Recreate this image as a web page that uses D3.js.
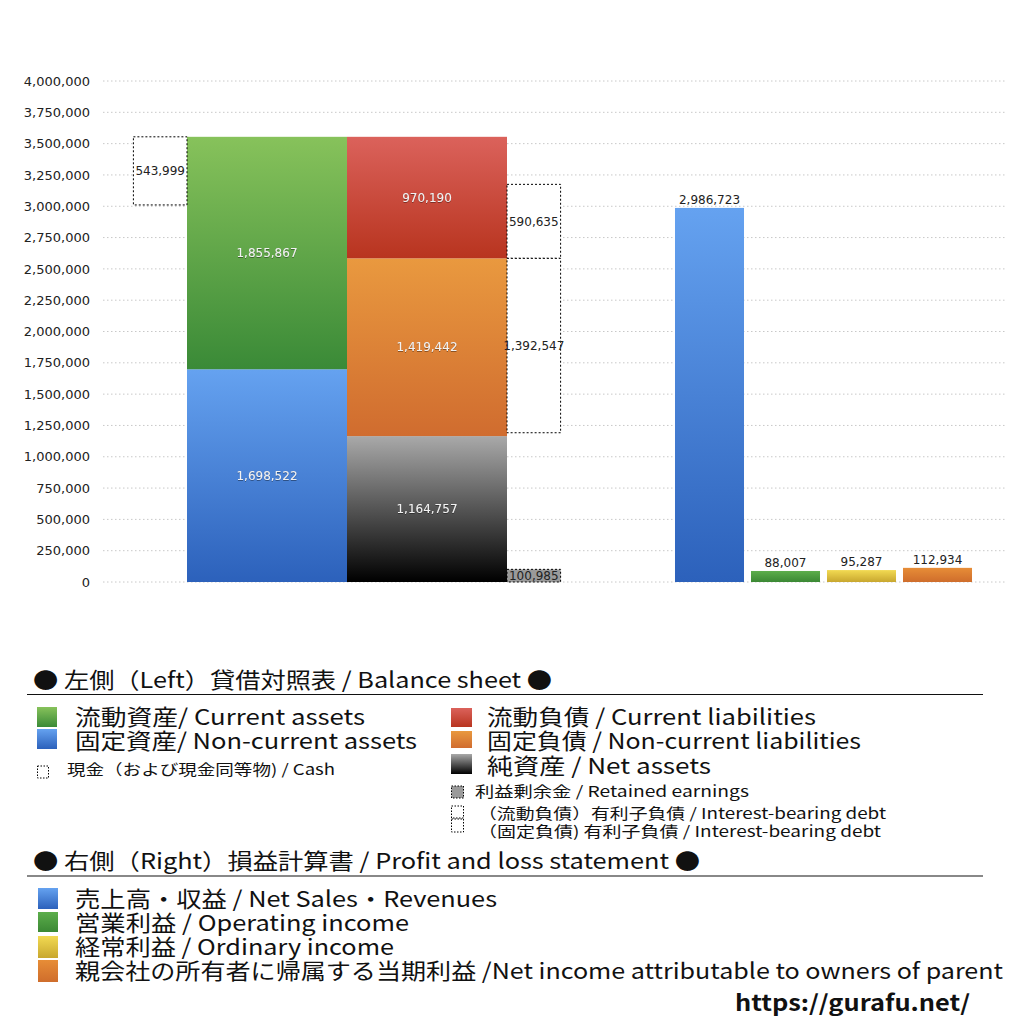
<!DOCTYPE html>
<html>
<head>
<meta charset="utf-8">
<script src="https://cdn.jsdelivr.net/npm/d3@7"></script>
<style>
  html, body { margin: 0; padding: 0; background: #fff; }
  svg { display: block; font-family: "Noto Sans CJK JP", "Noto Sans", sans-serif; }
</style>
</head>
<body>
<div id="chart"></div>
<script>
// Balance sheet (left) and P/L (right), values in thousand yen
const assetNames = ["固定資産", "流動資産"];
const assetValues = [1698522, 1855867];
const liabilityNames = ["純資産", "固定負債", "流動負債"];
const liabilityValues = [1164757, 1419442, 970190];
const cashValue = 543999;
const debtNames = ["流動負債 有利子負債", "固定負債 有利子負債"];
const debtValues = [590635, 1392547];
const retainedEarnings = 100985;
const plNames = ["売上高・収益", "営業利益", "経常利益", "当期利益"];
const plValues = [2986723, 88007, 95287, 112934];
const yTicks = [0, 250000, 500000, 750000, 1000000, 1250000, 1500000, 1750000,
                2000000, 2250000, 2500000, 2750000, 3000000, 3250000, 3500000,
                3750000, 4000000];

const width = 1024, height = 1024;
const fmt = d3.format(",");
const numFont = '"DejaVu Sans", sans-serif';

const svg = d3.select('#chart').append('svg')
    .attr('width', width)
    .attr('height', height);

// gradients
const gradients = {
    green:  ['#87c25b', '#3a8a37'],
    blue:   ['#65a2f0', '#2c61bb'],
    red:    ['#db625b', '#b8341f'],
    orange: ['#e9993f', '#d06c2f'],
    black:  ['#a9a9a9', '#000000'],
    green2: ['#5cae4b', '#3b8834'],
    yellow: ['#f2da52', '#c8a72f'],
    orange2:['#e78d37', '#cf6d2c']
};
const defs = svg.append('defs');
Object.entries(gradients).forEach(([name, c]) => {
    const g = defs.append('linearGradient')
        .attr('id', 'g-' + name)
        .attr('x1', 0).attr('y1', 0).attr('x2', 0).attr('y2', 1);
    g.append('stop').attr('offset', '0%').attr('stop-color', c[0]);
    g.append('stop').attr('offset', '100%').attr('stop-color', c[1]);
});
defs.append('filter').attr('id', 'shadow')
    .append('feDropShadow')
    .attr('dx', 0).attr('dy', 0.6).attr('stdDeviation', 0.6)
    .attr('flood-color', '#000').attr('flood-opacity', 0.6);

const assetColors = ['blue', 'green'];
const liabilityColors = ['black', 'orange', 'red'];
const plColors = ['blue', 'green2', 'yellow', 'orange2'];

// scales
const y = d3.scaleLinear().domain([0, 4000000]).range([582, 81]);
const xMain = d3.scaleBand().domain(['assets', 'liabilities']).range([187, 507]).padding(0);
const sideW = xMain.bandwidth() * 0.335;
const xPL = d3.scaleBand().domain(plNames).range([668, 979]).padding(0.092);

// grid
svg.append('g')
    .selectAll('line')
    .data(yTicks)
    .join('line')
    .attr('x1', 103).attr('x2', 1005)
    .attr('y1', d => y(d)).attr('y2', d => y(d))
    .attr('stroke', '#c8c8c8')
    .attr('stroke-width', 1)
    .attr('stroke-dasharray', '1.5,2.5');

// y axis
const yAxis = svg.append('g')
    .attr('transform', 'translate(90,0)')
    .call(d3.axisLeft(y).tickValues(yTicks).tickFormat(fmt).tickSize(0).tickPadding(0));
yAxis.select('.domain').remove();
yAxis.selectAll('text')
    .attr('font-family', numFont)
    .attr('font-size', 13)
    .attr('fill', '#222');

// stack helper
function stack(values) {
    let acc = 0;
    return values.map((v, i) => {
        const d = { i, value: v, y0: acc, y1: acc + v };
        acc += v;
        return d;
    });
}

function stackedColumn(key, names, values, colors) {
    const data = stack(values).map(d => ({ ...d, name: names[d.i], color: colors[d.i] }));
    const g = svg.append('g');
    g.selectAll('rect')
        .data(data)
        .join('rect')
        .attr('x', xMain(key))
        .attr('width', xMain.bandwidth())
        .attr('y', d => y(d.y1))
        .attr('height', d => y(d.y0) - y(d.y1))
        .attr('fill', d => `url(#g-${d.color})`);
    g.selectAll('text')
        .data(data)
        .join('text')
        .attr('x', xMain(key) + xMain.bandwidth() / 2)
        .attr('y', d => (y(d.y0) + y(d.y1)) / 2)
        .attr('dy', '0.35em')
        .attr('text-anchor', 'middle')
        .attr('font-family', numFont)
        .attr('font-size', 12)
        .attr('fill', '#f2f2f2')
        .attr('filter', 'url(#shadow)')
        .text(d => fmt(d.value));
    return data;
}

const assetStack = stackedColumn('assets', assetNames, assetValues, assetColors);
const liabStack = stackedColumn('liabilities', liabilityNames, liabilityValues, liabilityColors);

// dotted boxes
function dottedBox(x, v0, v1, label, fill) {
    const g = svg.append('g');
    g.append('rect')
        .attr('x', x).attr('width', sideW)
        .attr('y', y(v1)).attr('height', y(v0) - y(v1))
        .attr('fill', fill)
        .attr('stroke', '#000')
        .attr('stroke-width', 1)
        .attr('stroke-dasharray', '2,2');
    g.append('text')
        .attr('x', x + sideW / 2)
        .attr('y', (y(v0) + y(v1)) / 2)
        .attr('dy', '0.35em')
        .attr('text-anchor', 'middle')
        .attr('font-family', numFont)
        .attr('font-size', 12)
        .attr('fill', '#222')
        .text(fmt(label));
}

const assetTop = assetStack[assetStack.length - 1].y1;
dottedBox(xMain('assets') - sideW, assetTop - cashValue, assetTop, cashValue, '#fff');

const curLiab = liabStack[2];
const ncLiab = liabStack[1];
const debtX = xMain('liabilities') + xMain.bandwidth();
dottedBox(debtX, curLiab.y0, curLiab.y0 + debtValues[0], debtValues[0], '#fff');
dottedBox(debtX, ncLiab.y1 - debtValues[1], ncLiab.y1, debtValues[1], '#fff');
dottedBox(debtX, 0, retainedEarnings, retainedEarnings, '#9a9a9a');

// P/L bars
const pl = svg.append('g');
pl.selectAll('rect')
    .data(plValues)
    .join('rect')
    .attr('x', (d, i) => xPL(plNames[i]))
    .attr('width', xPL.bandwidth())
    .attr('y', d => y(d))
    .attr('height', d => y(0) - y(d))
    .attr('fill', (d, i) => `url(#g-${plColors[i]})`);
pl.selectAll('text')
    .data(plValues)
    .join('text')
    .attr('x', (d, i) => xPL(plNames[i]) + xPL.bandwidth() / 2)
    .attr('y', d => y(d) - 4)
    .attr('text-anchor', 'middle')
    .attr('font-family', numFont)
    .attr('font-size', 12)
    .attr('fill', '#222')
    .text(d => fmt(d));

// legend
const leg = svg.append('g');

function legText(x, yb, size, str, w, weight) {
    const t = leg.append('text')
        .attr('x', x).attr('y', yb)
        .attr('font-size', size)
        .attr('fill', '#111')
        .attr('font-weight', weight || 'normal')
        .text(str);
    if (w) t.attr('textLength', w).attr('lengthAdjust', 'spacingAndGlyphs');
    return t;
}
function legSwatch(x, yc, w, h, fill, dotted) {
    leg.append('rect')
        .attr('x', x).attr('y', yc - h / 2)
        .attr('width', w).attr('height', h)
        .attr('fill', fill)
        .attr('stroke', dotted ? '#000' : 'none')
        .attr('stroke-width', 1)
        .attr('stroke-dasharray', dotted ? '1.5,1.5' : null);
}

legText(33, 688, 22, '● 左側（Left）貸借対照表 / Balance sheet ●', 519);
leg.append('line').attr('x1', 27).attr('x2', 983).attr('y1', 694.5).attr('y2', 694.5)
    .attr('stroke', '#111').attr('stroke-width', 1);

legSwatch(37, 717, 20, 20, 'url(#g-green)');
legText(75, 725, 22, '流動資産/ Current assets', 290);
legSwatch(37, 739, 20, 20, 'url(#g-blue)');
legText(75, 749, 22, '固定資産/ Non-current assets', 342);
legSwatch(37.5, 772, 11, 12, '#fff', true);
legText(67, 775, 15, '現金（および現金同等物) / Cash', 268);

legSwatch(451, 717.5, 21, 19, 'url(#g-red)');
legText(487, 725, 22, '流動負債 /  Current liabilities', 329);
legSwatch(451, 739.5, 21, 17, 'url(#g-orange)');
legText(487, 749, 22, '固定負債 / Non-current liabilities', 374);
legSwatch(451, 764, 21, 20, 'url(#g-black)');
legText(487, 774, 22, '純資産 / Net assets', 224);
legSwatch(451.5, 792, 12, 12, '#9a9a9a', true);
legText(475, 797, 15, '利益剰余金 / Retained earnings', 274);
legSwatch(451.5, 812, 12, 12, '#fff', true);
legText(478, 819, 15, '（流動負債）有利子負債 / Interest-bearing debt', 408);
legSwatch(451.5, 825.5, 12, 13, '#fff', true);
legText(478, 837, 15, '（固定負債) 有利子負債 / Interest-bearing debt', 403);

legText(33, 869, 22, '● 右側（Right）損益計算書 / Profit and loss statement ●', 667);
leg.append('line').attr('x1', 27).attr('x2', 983).attr('y1', 876).attr('y2', 876)
    .attr('stroke', '#888').attr('stroke-width', 2);

legSwatch(38, 898.5, 20, 21, 'url(#g-blue)');
legText(75, 907, 22, '売上高・収益 / Net Sales・Revenues', 422);
legSwatch(38, 922, 20, 20, 'url(#g-green2)');
legText(75, 931, 22, '営業利益 / Operating income', 334);
legSwatch(38, 947, 20, 22, 'url(#g-yellow)');
legText(75, 955, 22, '経常利益 / Ordinary income', 319);
legSwatch(38, 971, 20, 22, 'url(#g-orange2)');
legText(75, 979, 22, '親会社の所有者に帰属する当期利益 /Net income attributable to owners of parent', 928);

legText(735, 1011, 22, 'https://gurafu.net/', 235, 'bold');
</script>
</body>
</html>
